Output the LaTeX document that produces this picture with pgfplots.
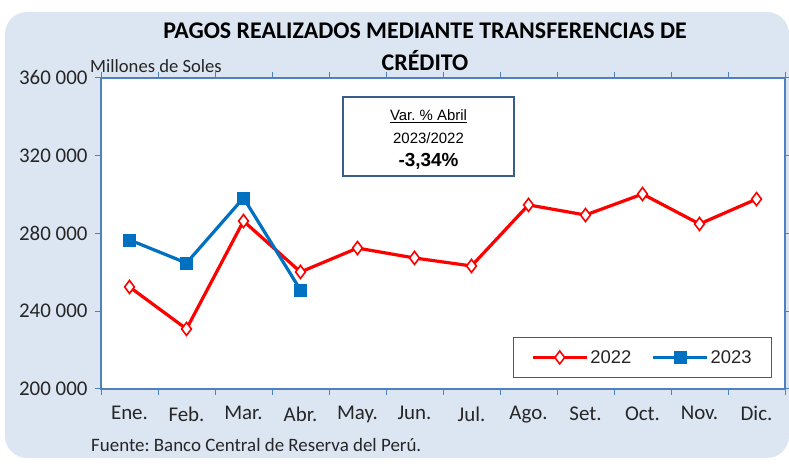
\documentclass[border=0pt]{standalone}
\usepackage{pgfplots}
\pgfplotsset{compat=1.18}
\usepackage{fontspec}
\setmainfont{Carlito}
\newfontfamily\arial{Liberation Sans}
\frenchspacing
\definecolor{bgc}{HTML}{DCE6F2}
\definecolor{axc}{HTML}{4F81BD}
\definecolor{boxc}{HTML}{385D8A}
\definecolor{blu}{HTML}{0070C0}
\definecolor{txt}{HTML}{262626}
\begin{document}
\begin{tikzpicture}[x=1bp,y=1bp]
\useasboundingbox (0,0) rectangle (789,466);
\fill[bgc, rounded corners=22bp] (5,8) rectangle (789,454);
\node[font=\fontsize{24}{24}\selectfont\bfseries, text=black] at (425,435) {PAGOS REALIZADOS MEDIANTE TRANSFERENCIAS DE};
\node[font=\fontsize{24}{24}\selectfont\bfseries, text=black] at (425,405) {CRÉDITO};
\node[font=\fontsize{18.7}{18.7}\selectfont, text=txt, anchor=west, inner sep=0pt] at (90,400) {Millones de Soles};
\node[font=\fontsize{19}{19}\selectfont, text=txt, anchor=west, inner sep=0pt] at (91,21) {Fuente: Banco Central de Reserva del Perú.};
\begin{axis}[
  at={(101bp,77bp)}, anchor=south west,
  width=684bp, height=311bp, scale only axis,
  xmin=-0.5, xmax=11.5, ymin=200000, ymax=360000,
  xtick={0,...,11},
  xticklabels={Ene.,Feb.,Mar.,Abr.,May.,Jun.,Jul.,Ago.,Set.,Oct.,Nov.,Dic.},
  minor xtick={-0.5,0.5,...,11.5},
  ytick={200000,240000,...,360000},
  yticklabels={200 000,240 000,280 000,320 000,360 000},
  scaled y ticks=false,
  tick align=outside,
  major tick length=6bp, minor tick length=6bp,
  x tick style={draw=none},
  minor x tick style={draw=axc, line width=1bp},
  y tick style={draw=axc, line width=1bp},
  axis line style={draw=axc, line width=1.5bp},
  axis background/.style={fill=white},
  ticklabel style={font=\fontsize{21}{21}\selectfont, text=txt},
  xticklabel style={yshift=-8bp},
  yticklabel style={xshift=-4bp},
  legend style={at={(0.981,0.035)}, anchor=south east, draw=boxc, line width=1bp,
    font=\arial\fontsize{18.5}{20}\selectfont, text=txt, inner xsep=18bp, inner ysep=11bp,
    /tikz/every even column/.append style={column sep=18bp}},
  legend columns=2,
  legend image code/.code={\draw[mark repeat=2,mark phase=2,#1] plot coordinates {(0bp,0bp) (27bp,0bp) (54bp,0bp)};},
]
\addplot[red, line width=3.2bp, mark=diamond*, mark size=6.5bp, mark options={fill=white, draw=red, line width=1.6bp}]
coordinates {(0,252500) (1,230900) (2,286400) (3,260200) (4,272500) (5,267400) (6,263300) (7,294700) (8,289500) (9,300300) (10,284900) (11,297700)};
\addlegendentry{2022}
\addplot[blu, line width=3.2bp, mark=square*, mark size=6bp, mark options={fill=blu, draw=blu, line width=0.5bp}]
coordinates {(0,276700) (1,264800) (2,298300) (3,250900)};
\addlegendentry{2023}
\end{axis}
\node[draw=boxc, line width=1.3bp, fill=white, minimum width=171bp, minimum height=79bp, inner sep=0pt] (b) at (428.5,329.5) {};
\node[font=\arial\fontsize{15}{15}\selectfont, text=black] at (428.5,350) {\underline{Var. \% Abril}};
\node[font=\arial\fontsize{15}{15}\selectfont, text=black] at (428.5,328) {2023/2022};
\node[font=\arial\fontsize{19}{19}\selectfont\bfseries, text=black] at (428.5,305) {-3,34\%};
\end{tikzpicture}
\end{document}
